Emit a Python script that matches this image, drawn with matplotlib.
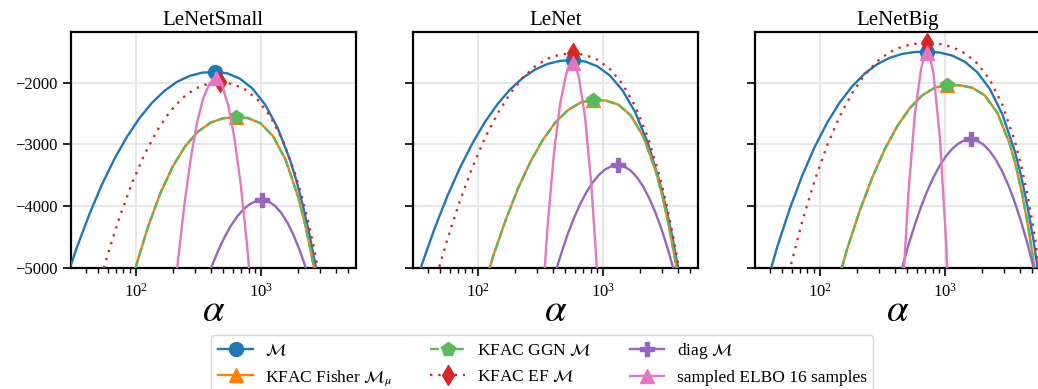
import matplotlib
matplotlib.use("Agg")
import matplotlib.pyplot as plt

# panel titles
titles = ["LeNetSmall", "LeNet", "LeNetBig"]

# ---- LeNetSmall ----
small_m_alpha = [27.1, 34.2, 43, 54.1, 68.1, 85.8, 108, 136, 171, 215, 271, 342, 430,
                 541, 681, 858, 1080, 1360, 1712, 1921, 2155, 2418, 2713, 3044]
small_m_val = [-5254, -4657, -4121, -3645, -3229, -2871, -2569, -2322, -2128, -1985, -1889, -1837, -1822,
               -1848, -1933, -2093, -2348, -2722, -3246, -3575, -3958, -4400, -4908, -5491]
small_fisher_alpha = [79.4, 100, 126, 158.5, 199.5, 251, 316, 398, 501, 631,
                      794, 1000, 1259, 1585, 1995, 2239, 2512, 2819, 3163]
small_fisher_val = [-5798, -5000, -4332, -3784, -3350, -3022, -2792, -2648, -2577, -2560,
                    -2574, -2660, -2870, -3253, -3855, -4251, -4719, -5261, -5880]
small_ggn_alpha = [79.4, 100, 126, 158.5, 199.5, 251, 316, 398, 501, 631,
                   794, 1000, 1259, 1585, 1995, 2239, 2512, 2819, 3163]
small_ggn_val = [-5798, -5000, -4332, -3784, -3350, -3022, -2792, -2648, -2577, -2560,
                 -2574, -2660, -2870, -3253, -3855, -4251, -4719, -5261, -5880]
small_ef_alpha = [47.5, 59.8, 75.3, 94.8, 119.3, 150.2, 189, 238, 300, 377, 475,
                  598, 753, 948, 1193, 1502, 1891, 2122, 2381, 2671, 2997]
small_ef_val = [-5522, -4792, -4154, -3604, -3141, -2762, -2465, -2244, -2097, -2017, -1995,
                -2022, -2111, -2278, -2545, -2935, -3483, -3827, -4227, -4689, -5220]
small_diag_alpha = [366, 410, 460.5, 517, 580, 650, 730, 819, 919, 1031,
                    1157, 1298, 1456, 1634, 1833, 2057, 2309, 2590]
small_diag_val = [-5237, -4957, -4710, -4496, -4315, -4167, -4051, -3969, -3919, -3903,
                  -3926, -3994, -4108, -4267, -4472, -4723, -5019, -5361]
small_elbo_alpha = [195, 219, 246, 276, 309, 347, 390, 413, 437, 463, 490, 550, 617, 693, 777, 872]
small_elbo_val = [-5922, -4863, -3967, -3234, -2663, -2256, -2011, -1950, -1930, -1957, -2038,
                  -2361, -2899, -3652, -4621, -5805]

# ---- LeNet ----
mid_m_alpha = [28.8, 36.2, 45.6, 57.4, 72.3, 91, 114.5, 144.2, 181.5, 228.5, 287.7, 362, 456, 574,
               723, 910, 1145, 1442, 1815, 2285, 2877, 3228, 3622, 4064, 4559]
mid_m_val = [-5561, -4926, -4352, -3838, -3381, -2982, -2638, -2349, -2112, -1926, -1788, -1696, -1646, -1632,
             -1656, -1736, -1886, -2125, -2475, -2966, -3634, -4048, -4524, -5070, -5694]
mid_fisher_alpha = [106, 133, 168, 211, 266, 335, 421, 531, 668, 841,
                    1059, 1333, 1678, 2113, 2660, 2984, 3348, 3757, 4215]
mid_fisher_val = [-5493, -4819, -4224, -3709, -3273, -2916, -2638, -2440, -2321, -2281,
                  -2290, -2355, -2531, -2873, -3437, -3820, -4279, -4821, -5453]
mid_ggn_alpha = [106, 133, 168, 211, 266, 335, 421, 531, 668, 841,
                 1059, 1333, 1678, 2113, 2660, 2984, 3348, 3757, 4215]
mid_ggn_val = [-5493, -4819, -4224, -3709, -3273, -2916, -2638, -2440, -2321, -2281,
               -2290, -2355, -2531, -2873, -3437, -3820, -4279, -4821, -5453]
mid_ef_alpha = [45.6, 51.2, 57.4, 72.3, 91, 114.5, 144.2, 181.5, 228.5, 287.7, 362, 456, 574,
                723, 910, 1145, 1442, 1815, 2285, 2877, 3228, 3622, 4064, 4559]
mid_ef_val = [-5241, -4880, -4539, -3915, -3369, -2899, -2504, -2180, -1926, -1737, -1611, -1543, -1524,
              -1548, -1629, -1781, -2022, -2376, -2872, -3547, -3966, -4447, -4999, -5630]
mid_diag_alpha = [418, 469, 526, 590, 662, 743, 834, 935, 1049, 1177, 1321,
                  1482, 1663, 1866, 2094, 2349, 2636, 2957, 3318, 3723, 4177]
mid_diag_val = [-5084, -4752, -4454, -4192, -3965, -3772, -3615, -3492, -3405, -3352, -3335,
                -3356, -3420, -3527, -3676, -3868, -4102, -4379, -4698, -5061, -5465]
mid_elbo_alpha = [323, 362, 406, 456, 512, 542, 574, 608, 644, 723, 811, 910, 1021]
mid_elbo_val = [-5851, -4352, -3185, -2352, -1853, -1728, -1686, -1740, -1904, -2558, -3647, -5172, -7133]

# ---- LeNetBig ----
big_m_alpha = [36.4, 45.8, 57.7, 72.6, 91.4, 115, 144.8, 182.4, 229.6, 289, 364, 458, 577, 726,
               914, 1151, 1449, 1824, 2296, 2890, 3639, 4083, 4581, 5140, 5767]
big_m_val = [-5370, -4668, -4048, -3507, -3042, -2648, -2321, -2058, -1852, -1700, -1596, -1533, -1503, -1497,
             -1511, -1561, -1661, -1832, -2102, -2513, -3117, -3518, -3995, -4575, -5266]
big_fisher_alpha = [132, 166, 209.5, 264, 332, 418, 526, 662.5, 834, 1050,
                    1322, 1664, 2095, 2637, 3320, 3725, 4180, 4690, 5262, 5905]
big_fisher_val = [-5408, -4700, -4076, -3536, -3078, -2704, -2412, -2204, -2080, -2038,
                  -2042, -2081, -2207, -2489, -2999, -3368, -3825, -4384, -5058, -5856]
big_ggn_alpha = [132, 166, 209.5, 264, 332, 418, 526, 662.5, 834, 1050,
                 1322, 1664, 2095, 2637, 3320, 3725, 4180, 4690, 5262, 5905]
big_ggn_val = [-5408, -4700, -4076, -3536, -3078, -2704, -2412, -2204, -2080, -2038,
               -2042, -2081, -2207, -2489, -2999, -3368, -3825, -4384, -5058, -5856]
big_ef_alpha = [51.4, 57.7, 72.6, 91.4, 115, 144.8, 182.4, 229.6, 289, 364, 458, 577, 726,
                914, 1151, 1449, 1824, 2296, 2890, 3639, 4083, 4581, 5140, 5767, 6471]
big_ef_val = [-5463, -5031, -4253, -3583, -3016, -2546, -2167, -1871, -1653, -1503, -1412, -1369, -1360,
              -1374, -1423, -1521, -1689, -1954, -2357, -2950, -3344, -3812, -4382, -5060, -5866]
big_diag_alpha = [406, 456, 511, 574, 644, 722, 810, 909, 1020, 1145, 1284, 1441, 1617,
                  1814, 2036, 2284, 2563, 2875, 3227, 3620, 4062, 4557, 5113, 5737]
big_diag_val = [-5404, -5007, -4645, -4317, -4024, -3765, -3540, -3351, -3195, -3074, -2988, -2936, -2919,
                -2940, -3002, -3105, -3249, -3435, -3662, -3931, -4240, -4591, -4984, -5417]
big_elbo_alpha = [458, 514, 577, 647, 685, 726, 769, 815, 914, 1026, 1151]
big_elbo_val = [-5500, -3761, -2518, -1773, -1586, -1524, -1609, -1864, -2882, -4580, -6956]

# series styling (legend order)
labels = [r"$\mathcal{M}$", r"KFAC Fisher $\mathcal{M}_\mu$", r"KFAC GGN $\mathcal{M}$",
          r"KFAC EF $\mathcal{M}$", r"diag $\mathcal{M}$", "sampled ELBO 16 samples"]
colors = ["#1f77b4", "#ff7f0e", "#5cb85c", "#d62728", "#9467bd", "#e377c2"]
markers = ["o", "^", "p", "d", "P", "^"]
styles = ["-", "-", (0, (3.7, 1.6)), (0, (1, 2.5)), "-", "-"]

panels = [
    [(small_m_alpha, small_m_val), (small_fisher_alpha, small_fisher_val), (small_ggn_alpha, small_ggn_val),
     (small_ef_alpha, small_ef_val), (small_diag_alpha, small_diag_val), (small_elbo_alpha, small_elbo_val)],
    [(mid_m_alpha, mid_m_val), (mid_fisher_alpha, mid_fisher_val), (mid_ggn_alpha, mid_ggn_val),
     (mid_ef_alpha, mid_ef_val), (mid_diag_alpha, mid_diag_val), (mid_elbo_alpha, mid_elbo_val)],
    [(big_m_alpha, big_m_val), (big_fisher_alpha, big_fisher_val), (big_ggn_alpha, big_ggn_val),
     (big_ef_alpha, big_ef_val), (big_diag_alpha, big_diag_val), (big_elbo_alpha, big_elbo_val)],
]

plt.rcParams["font.family"] = ["Liberation Serif", "DejaVu Serif"]
plt.rcParams["mathtext.fontset"] = "stix"
plt.rcParams["axes.unicode_minus"] = True

fig = plt.figure(figsize=(10.38, 3.89), dpi=100)
lefts = [0.0684, 0.3979, 0.7274]
axes = []
for i, left in enumerate(lefts):
    ax = fig.add_axes([left, 0.3118, 0.2743, 0.6051])
    axes.append(ax)
    for j, (a, v) in enumerate(panels[i]):
        peak = v.index(max(v))
        ax.plot(a, v, linestyle=styles[j], color=colors[j], lw=1.7,
                marker=markers[j], markevery=[peak], markersize=10,
                label=labels[j], zorder=3 + j)
    ax.set_xscale("log")
    ax.set_xlim(30.5, 5750)
    ax.set_ylim(-5000, -1183)
    ax.set_yticks([-5000, -4000, -3000, -2000])
    ax.grid(True, which="major", color="#e3e3e3", lw=1.2)
    ax.set_axisbelow(True)
    for s in ax.spines.values():
        s.set_linewidth(1.6)
    ax.tick_params(which="major", length=6, width=1.2, labelsize=12, direction="out")
    ax.tick_params(axis="x", which="major", pad=5)
    ax.tick_params(which="minor", length=3.5, width=1.0)
    ax.set_title(titles[i], fontsize=15, pad=5)
    ax.set_xlabel(r"$\alpha$", fontsize=28, labelpad=-6)
    if i > 0:
        ax.set_yticklabels([])

handles, labs = axes[0].get_legend_handles_labels()
fig.legend(handles, labs, loc="upper center", bbox_to_anchor=(0.5226, 0.14), ncol=3,
           fontsize=12.5, frameon=True, edgecolor="#cccccc", fancybox=True,
           handlelength=2.0, handletextpad=0.7, columnspacing=2.2, borderaxespad=0)

fig.savefig("out.png", dpi=100)
